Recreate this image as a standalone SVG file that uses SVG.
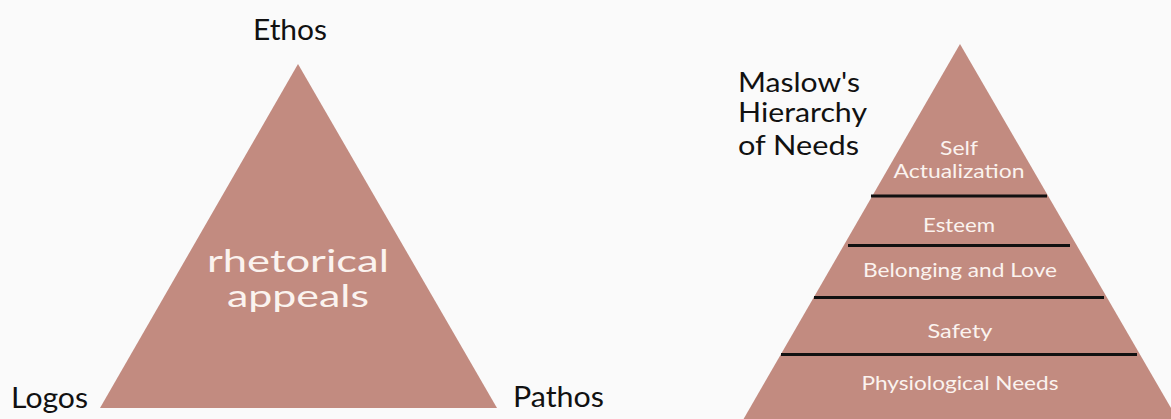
<svg xmlns="http://www.w3.org/2000/svg" width="1171" height="419" viewBox="0 0 1171 419">
<style>
.shape{fill:#c28b80}
.dark{font-family:"Lato","Liberation Sans",sans-serif;fill:#111;font-weight:400}
.light{font-family:"Lato","Liberation Sans",sans-serif;fill:#fbf3ef;font-weight:400}
.mid{text-anchor:middle}
.sep{stroke:#111;stroke-width:3}
</style>
<rect width="1171" height="419" fill="#fafafa"/>
<g id="rhetorical">
<polygon class="shape" points="298,64 100,408 497,408"/>
<text class="light mid" x="298" y="272" font-size="30" textLength="182" lengthAdjust="spacingAndGlyphs">rhetorical</text>
<text class="light mid" x="298" y="307" font-size="30" textLength="142" lengthAdjust="spacingAndGlyphs">appeals</text>
</g>
<g id="ethos"><text class="dark" x="253" y="40" font-size="28" textLength="74" lengthAdjust="spacingAndGlyphs">Ethos</text></g>
<g id="logos"><text class="dark" x="11" y="408" font-size="28" textLength="77" lengthAdjust="spacingAndGlyphs">Logos</text></g>
<g id="pathos"><text class="dark" x="513" y="407" font-size="28" textLength="91" lengthAdjust="spacingAndGlyphs">Pathos</text></g>
<g id="maslow-title">
<text class="dark" x="738" y="92" font-size="26" textLength="122" lengthAdjust="spacingAndGlyphs">Maslow's</text>
<text class="dark" x="738" y="122" font-size="26" textLength="129" lengthAdjust="spacingAndGlyphs">Hierarchy</text>
<text class="dark" x="738" y="155" font-size="26" textLength="121" lengthAdjust="spacingAndGlyphs">of Needs</text>
</g>
<g id="pyramid">
<polygon class="shape" points="960,44 743,420 1178,420"/>
</g>
<g id="connectors">
<line class="sep" x1="871" y1="196" x2="1047" y2="196"/>
<line class="sep" x1="848" y1="245.5" x2="1070" y2="245.5"/>
<line class="sep" x1="814" y1="297.5" x2="1104" y2="297.5"/>
<line class="sep" x1="781" y1="354.5" x2="1137" y2="354.5"/>
</g>
<g id="self-actualization">
<text class="light mid" x="959" y="155" font-size="20" textLength="38" lengthAdjust="spacingAndGlyphs">Self</text>
<text class="light mid" x="959" y="178" font-size="20" textLength="131" lengthAdjust="spacingAndGlyphs">Actualization</text>
</g>
<g id="esteem"><text class="light mid" x="959" y="232" font-size="20" textLength="72" lengthAdjust="spacingAndGlyphs">Esteem</text></g>
<g id="belonging"><text class="light mid" x="960" y="277" font-size="20" textLength="194" lengthAdjust="spacingAndGlyphs">Belonging and Love</text></g>
<g id="safety"><text class="light mid" x="960" y="338" font-size="20" textLength="65" lengthAdjust="spacingAndGlyphs">Safety</text></g>
<g id="physiological"><text class="light mid" x="960" y="390" font-size="20" textLength="197" lengthAdjust="spacingAndGlyphs">Physiological Needs</text></g>
</svg>
